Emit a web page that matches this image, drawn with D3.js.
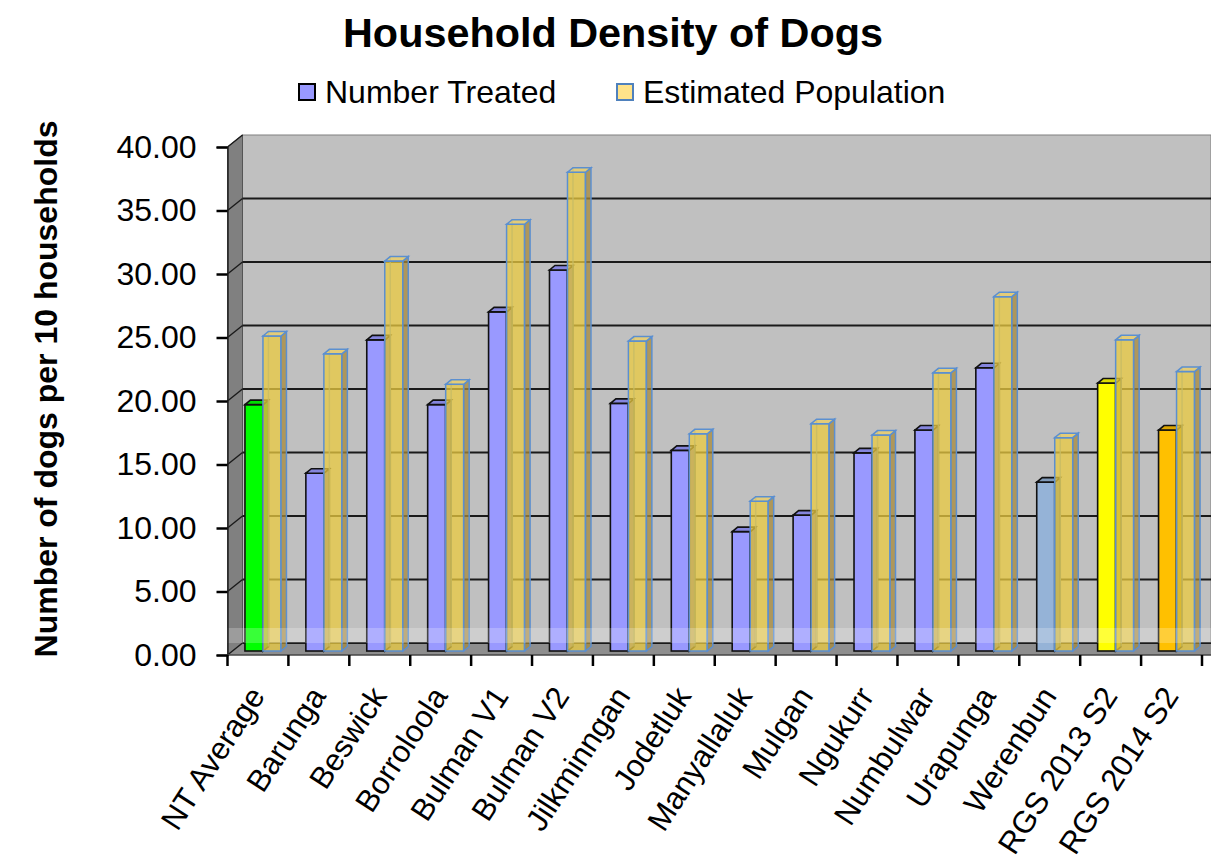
<!DOCTYPE html>
<html>
<head>
<meta charset="utf-8">
<script src="https://cdn.jsdelivr.net/npm/d3@7"></script>
<style>
  body { margin: 0; background: #fff; }
  svg { display: block; font-family: Arial, "Liberation Sans", sans-serif; }
</style>
</head>
<body>
<svg id="chart"></svg>
<script>
const width = 1211;
const height = 865;

const categories = ['NT Average', 'Barunga', 'Beswick', 'Borroloola', 'Bulman V1', 'Bulman V2',
  'Jilkminngan', 'Jodetluk', 'Manyallaluk', 'Mulgan', 'Ngukurr', 'Numbulwar', 'Urapunga',
  'Werenbun', 'RGS 2013 S2', 'RGS 2014 S2'];
const treated = [19.4, 14.0, 24.5, 19.4, 26.7, 30.0, 19.5, 15.8, 9.4, 10.7, 15.6, 17.4, 22.3, 13.3, 21.1, 17.4];
const estimated = [24.8, 23.4, 30.7, 21.0, 33.6, 37.7, 24.4, 17.1, 11.8, 17.9, 17.0, 21.9, 27.9, 16.8, 24.5, 22.0];
const treatedColors = ['#00ff00', '#9999ff', '#9999ff', '#9999ff', '#9999ff', '#9999ff', '#9999ff',
  '#9999ff', '#9999ff', '#9999ff', '#9999ff', '#9999ff', '#9999ff', '#95b3d7', '#ffff00', '#ffc000'];
const yTicks = [0, 5, 10, 15, 20, 25, 30, 35, 40];

const svg = d3.select('#chart')
  .attr('width', width)
  .attr('height', height);

const x = d3.scaleBand().domain(categories).range([227.5, 1202]);
const y = d3.scaleLinear().domain([0, 40]).range([655, 147]);

// 3d offsets: back wall, bar front plane, bar depth
const wall = { dx: 15, dy: -12 };
const front = { dx: 5, dy: -4 };
const depth = { dx: 5.5, dy: -4.5 };
const barW = 18;
const left = x.range()[0];

// walls and floor
svg.append('rect')
  .attr('x', left + wall.dx)
  .attr('y', y(40) + wall.dy)
  .attr('width', width - left - wall.dx)
  .attr('height', y(0) - y(40))
  .attr('fill', '#c0c0c0')
  .attr('stroke', '#808080')
  .attr('stroke-width', 1);

svg.append('polygon')
  .attr('points', [[left, y(0)], [left, y(40)], [left + wall.dx, y(40) + wall.dy], [left + wall.dx, y(0) + wall.dy]].join(' '))
  .attr('fill', '#808080')
  .attr('stroke', '#555')
  .attr('stroke-width', 1);

svg.append('polygon')
  .attr('points', [[left, y(0)], [width + 20, y(0)], [width + 20, y(0) + wall.dy], [left + wall.dx, y(0) + wall.dy]].join(' '))
  .attr('fill', '#8e8e8e');

// gridlines on back wall + diagonals on side wall
svg.selectAll('.grid')
  .data(yTicks.filter(d => d < 40))
  .enter()
  .append('line')
    .attr('class', 'grid')
    .attr('x1', left + wall.dx)
    .attr('x2', width)
    .attr('y1', d => y(d) + wall.dy)
    .attr('y2', d => y(d) + wall.dy)
    .attr('stroke', '#1a1a1a')
    .attr('stroke-width', 2);

svg.selectAll('.diag')
  .data(yTicks)
  .enter()
  .append('line')
    .attr('class', 'diag')
    .attr('x1', left)
    .attr('x2', left + wall.dx)
    .attr('y1', d => y(d))
    .attr('y2', d => y(d) + wall.dy)
    .attr('stroke', '#1a1a1a')
    .attr('stroke-width', 1.5);

// one 3d box
function box(g, x0, v, fill, sideFill, topFill, stroke, sw, opacity, ghostEdge) {
  const xl = x0 + front.dx;
  const xr = xl + barW;
  const yb = y(0) + front.dy;
  const yt = y(v) + front.dy;
  if (ghostEdge) {
    g.append('line')
      .attr('x1', xl + depth.dx).attr('x2', xl + depth.dx)
      .attr('y1', yt + depth.dy).attr('y2', yb + depth.dy)
      .attr('stroke', stroke).attr('stroke-width', sw).attr('opacity', 0.8);
  }
  g.append('rect')
    .attr('x', xl).attr('y', yt)
    .attr('width', barW).attr('height', yb - yt)
    .attr('fill', fill).attr('fill-opacity', opacity)
    .attr('stroke', stroke).attr('stroke-width', sw);
  g.append('polygon')
    .attr('points', [[xr, yt], [xr + depth.dx, yt + depth.dy], [xr + depth.dx, yb + depth.dy], [xr, yb]].join(' '))
    .attr('fill', sideFill).attr('fill-opacity', opacity)
    .attr('stroke', stroke).attr('stroke-width', sw);
  g.append('polygon')
    .attr('points', [[xl, yt], [xl + depth.dx, yt + depth.dy], [xr + depth.dx, yt + depth.dy], [xr, yt]].join(' '))
    .attr('fill', topFill).attr('fill-opacity', opacity)
    .attr('stroke', stroke).attr('stroke-width', sw);
}

const bars = svg.append('g');
categories.forEach((c, i) => {
  const g = bars.append('g');
  const x0 = x(c) + x.bandwidth() / 2 - barW;
  const col = d3.color(treatedColors[i]);
  box(g, x0, treated[i], col, col.darker(1.1), col.darker(0.4), '#111', 1.6, 1, false);
  box(g, x0 + barW, estimated[i], '#ebcb40', '#a8893a', '#f0d060', '#5b8fd0', 1.5, 0.75, true);
});

// translucent floor band
svg.append('rect')
  .attr('x', left)
  .attr('y', y(0) + wall.dy - 15)
  .attr('width', width - left)
  .attr('height', 15)
  .attr('fill', '#fff')
  .attr('opacity', 0.22);

// y axis
const yAxis = svg.append('g')
  .attr('transform', `translate(${left},0)`)
  .call(d3.axisLeft(y).tickValues(yTicks).tickFormat(d3.format('.2f')).tickSize(11).tickPadding(20));
yAxis.select('.domain').attr('stroke', '#222').attr('stroke-width', 1.5);
yAxis.selectAll('.tick line').attr('stroke', '#000').attr('stroke-width', 2.5);
yAxis.selectAll('.tick text').attr('font-size', 32).attr('fill', '#000')
  .attr('font-family', 'Arial, "Liberation Sans", sans-serif');

// x axis: front edge, boundary ticks, rotated labels
svg.append('line')
  .attr('x1', left).attr('x2', width)
  .attr('y1', y(0)).attr('y2', y(0))
  .attr('stroke', '#444').attr('stroke-width', 1.5);

svg.selectAll('.xtick')
  .data(d3.range(categories.length + 1))
  .enter()
  .append('line')
    .attr('class', 'xtick')
    .attr('x1', d => left + d * x.step())
    .attr('x2', d => left + d * x.step())
    .attr('y1', y(0))
    .attr('y2', y(0) + 11)
    .attr('stroke', '#000')
    .attr('stroke-width', 2.5);

svg.selectAll('.xlabel')
  .data(categories)
  .enter()
  .append('text')
    .attr('class', 'xlabel')
    .attr('transform', d => `translate(${x(d) + x.bandwidth() / 2 + 8},696) rotate(-57)`)
    .attr('text-anchor', 'end')
    .attr('font-size', 31)
    .attr('fill', '#000')
    .text(d => d);

// title, legend, axis title
svg.append('text')
  .attr('x', 613)
  .attr('y', 47)
  .attr('text-anchor', 'middle')
  .attr('font-size', 40)
  .attr('font-weight', 'bold')
  .attr('textLength', 540)
  .attr('lengthAdjust', 'spacingAndGlyphs')
  .text('Household Density of Dogs');

const legend = [
  { label: 'Number Treated', x: 299, fill: '#9999ff', stroke: '#000' },
  { label: 'Estimated Population', x: 617, fill: '#ffe38a', stroke: '#4f81bd' }
];
const lg = svg.selectAll('.legend')
  .data(legend)
  .enter()
  .append('g')
    .attr('class', 'legend')
    .attr('transform', d => `translate(${d.x},84)`);
lg.append('rect')
  .attr('width', 16).attr('height', 16)
  .attr('fill', d => d.fill)
  .attr('stroke', d => d.stroke)
  .attr('stroke-width', 2);
lg.append('text')
  .attr('x', 26)
  .attr('y', 19)
  .attr('font-size', 32)
  .text(d => d.label);

svg.append('text')
  .attr('transform', 'translate(57,389) rotate(-90)')
  .attr('text-anchor', 'middle')
  .attr('font-size', 32)
  .attr('font-weight', 'bold')
  .text('Number of dogs per 10 households');
</script>
</body>
</html>
